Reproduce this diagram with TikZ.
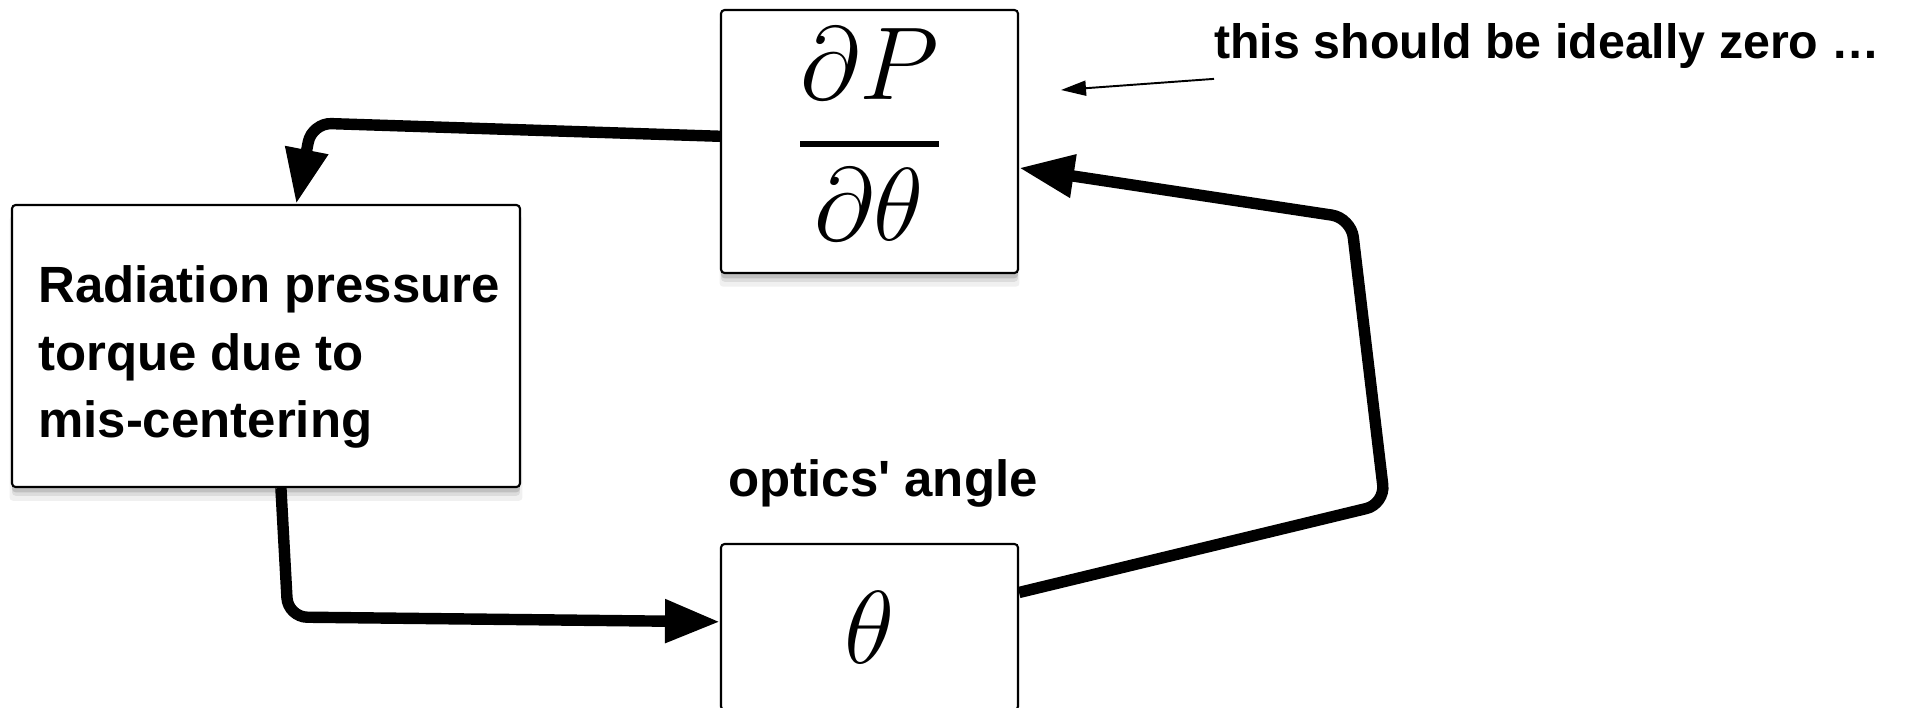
\RequirePackage{fix-cm}
\documentclass[tikz,border=0pt]{standalone}
\usepackage{amsmath}
\usepackage{fontspec}
\setmainfont{Liberation Sans}
\usepackage{tikz}
\usetikzlibrary{arrows.meta, shadows, calc}

\tikzset{
  blockbox/.style={draw, line width=1.2pt, rounded corners=2pt, fill=white,
    drop shadow={shadow xshift=0pt, shadow yshift=-7pt, shadow scale=1.01, opacity=0.12},
    drop shadow={shadow xshift=0pt, shadow yshift=-5pt, opacity=0.18},
    drop shadow={shadow xshift=0pt, shadow yshift=-3pt, opacity=0.3}},
  looparrow/.style={line width=6.5pt, rounded corners=11pt, -{Triangle[length=1.1cm, width=0.82cm]}},
  notearrow/.style={line width=1.1pt, -{Triangle[length=0.5cm, width=0.3cm]}},
  labeltext/.style={font=\fontsize{29}{38.5}\selectfont\bfseries},
  notetext/.style={font=\fontsize{27.5}{33}\selectfont\bfseries},
}

\begin{document}
\begin{tikzpicture}[x=0.02cm, y=-0.02cm]
        \useasboundingbox (0,0) rectangle (1909,707);

        % boxes of the loop
        \node[blockbox, minimum width=5.94cm, minimum height=5.26cm] (dpdt) at (869.5,141.5) {};
        \node (frac) at (869.5,134) {\fontsize{59}{70}\selectfont$\genfrac{}{}{3.5pt}{0}{\partial P}{\partial\theta}$};
        \node[blockbox, minimum width=10.16cm, minimum height=5.64cm] (rad) at (266,346) {};
        \node[labeltext, align=left] (radtext) at (269,357) {Radiation pressure\\torque due to\\mis-centering};
        \node[blockbox, minimum width=5.94cm, minimum height=3.32cm] (theta) at (869.5,627) {\fontsize{59}{70}\selectfont$\theta$};

        % texts
        \node[labeltext] (angletext) at (883,483) {optics\textquotesingle{} angle};
        \node[notetext, anchor=west, inner sep=0pt] (note) at (1214,46) {this should be ideally zero …};
        \coordinate (notetip) at (1061,90);

        % loop
        \draw[looparrow] (dpdt.178) -- (312,123) -- (rad.78);
        \draw[looparrow] (rad.-84) -- (288,617) -- (theta.178);
        \draw[looparrow] (theta.13) -- (1385,504) -- (1351,218) -- (dpdt.-10);
        \draw[notearrow] ($(note.south west)+(0,10)$) -- (notetip);

    \end{tikzpicture}
\end{document}
